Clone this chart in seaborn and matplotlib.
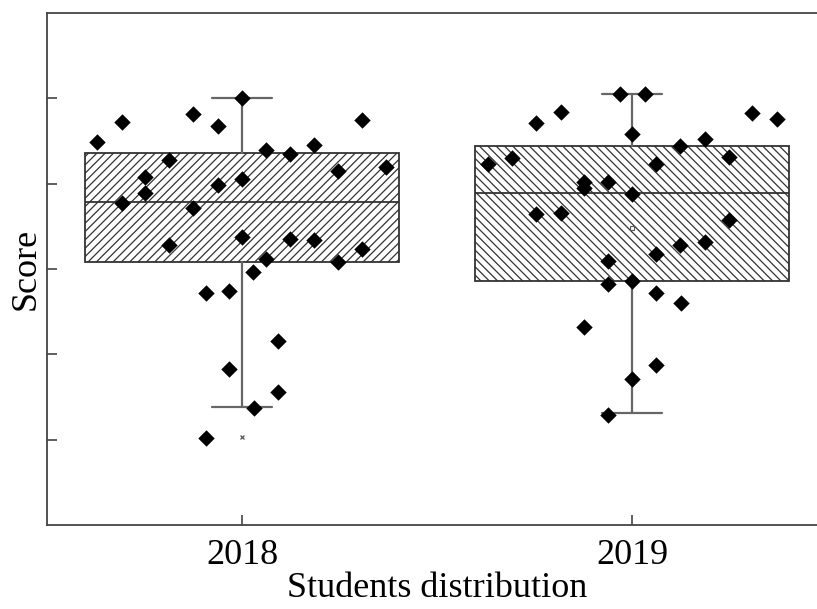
import matplotlib
matplotlib.use("Agg")
import matplotlib.pyplot as plt
import seaborn as sns
import pandas as pd
import numpy as np

# ---------------- data ----------------
categories = ["2018", "2019"]

offsets_2018 = [-0.372, -0.308, -0.126, -0.062, -0.187, -0.249, -0.249, -0.308, -0.126, -0.062,
                -0.187, 0.0, 0.062, 0.123, 0.185, 0.308, 0.0, 0.246, 0.369, 0.0,
                0.123, 0.185, 0.308, 0.062, 0.246, 0.028, -0.092, -0.033, 0.092, -0.033,
                0.092, 0.031, -0.092]
scores_2018 = [84.85, 87.19, 88.13, 86.73, 82.75, 80.76, 78.89, 77.72, 77.13, 79.82,
               72.81, 90.00, 83.92, 83.45, 84.50, 87.43, 80.53, 81.46, 81.93, 73.74,
               73.51, 73.39, 72.34, 71.17, 70.82, 69.65, 67.19, 67.43, 61.58, 58.30,
               55.61, 53.74, 50.23]

offsets_2019 = [-0.031, 0.033, -0.182, -0.246, 0.0, 0.308, 0.372, -0.369, -0.308, -0.123,
                -0.123, -0.062, 0.0, -0.246, -0.182, -0.062, 0.123, 0.188, 0.062, 0.249,
                0.249, 0.123, 0.188, 0.062, -0.062, 0.0, 0.062, 0.126, -0.123, 0.062,
                0.0, -0.062]
scores_2019 = [90.47, 90.47, 88.36, 87.08, 85.79, 88.25, 87.54, 82.28, 82.98, 80.18,
               79.47, 80.18, 78.77, 76.43, 76.55, 70.94, 84.39, 85.20, 82.28, 83.10,
               75.73, 72.81, 73.16, 71.75, 68.25, 68.60, 67.19, 66.02, 63.22, 58.77,
               57.13, 52.92]

# box statistics per year
box_q1 = [70.82, 68.60]
box_med = [77.84, 78.89]
box_q3 = [83.57, 84.39]
box_whislo = [53.86, 53.16]
box_whishi = [90.00, 90.47]
box_marker = [50.27, 74.80]

y_ticks = [50, 60, 70, 80, 90]

# ---------------- figure ----------------
sns.set_style("white")
plt.rcParams["font.family"] = ["Liberation Serif", "DejaVu Serif"]
plt.rcParams["hatch.linewidth"] = 0.9
plt.rcParams["hatch.color"] = "#4a4a4a"
plt.rcParams["text.color"] = "black"
plt.rcParams["axes.labelcolor"] = "black"
plt.rcParams["xtick.color"] = "black"
plt.rcParams["ytick.color"] = "black"

fig = plt.figure(figsize=(8.17, 6.09), dpi=100)
ax = fig.add_axes([47 / 817, 1 - 525 / 609, 780 / 817, (525 - 13) / 609])

stats = []
for i, c in enumerate(categories):
    stats.append(dict(label=c, q1=box_q1[i], med=box_med[i], q3=box_q3[i],
                      whislo=box_whislo[i], whishi=box_whishi[i], fliers=[]))

bp = ax.bxp(stats, positions=[0, 1], widths=0.805, patch_artist=True,
            showfliers=False, showcaps=True,
            boxprops=dict(facecolor="white", edgecolor="#333333", linewidth=1.3),
            medianprops=dict(color="#333333", linewidth=1.3),
            whiskerprops=dict(color="#666666", linewidth=1.6),
            capprops=dict(color="#666666", linewidth=1.6),
            capwidths=0.155, zorder=1)
for patch, h in zip(bp["boxes"], ["////", "\\\\\\\\"]):
    patch.set_hatch(h)

df = pd.DataFrame({
    "x": [o + 0 for o in offsets_2018] + [o + 1 for o in offsets_2019],
    "score": scores_2018 + scores_2019,
})
sns.scatterplot(data=df, x="x", y="score", marker="D", color="black", s=70,
                edgecolor="black", linewidth=0, ax=ax, zorder=3)

# small markers (mean indicators)
ax.plot([0], [box_marker[0]], marker="x", color="#555555", markersize=3.5,
        markeredgewidth=0.9, linestyle="none", zorder=2)
ax.plot([1], [box_marker[1]], marker="s", markerfacecolor="white",
        markeredgecolor="#555555", markersize=3.5, markeredgewidth=0.8,
        linestyle="none", zorder=2)

ax.set_xlim(-0.5, 1.5)
ax.set_ylim(40, 100)
ax.set_xticks([0, 1])
ax.set_xticklabels(categories, fontsize=26)
ax.set_yticks(y_ticks)
ax.set_yticklabels([])
ax.tick_params(axis="both", direction="in", length=7, width=1.2, color="#444444",
               left=True, bottom=True, right=False, top=False, labelcolor="black")
ax.tick_params(axis="x", pad=10)
ax.set_xlabel("Students distribution", fontsize=26, labelpad=0, color="black")
ax.set_ylabel("Score", fontsize=26, labelpad=0, color="black")
for s in ["left", "bottom", "top", "right"]:
    ax.spines[s].set_color("#444444")
    ax.spines[s].set_linewidth(1.3)

fig.savefig("out.png", dpi=100)
